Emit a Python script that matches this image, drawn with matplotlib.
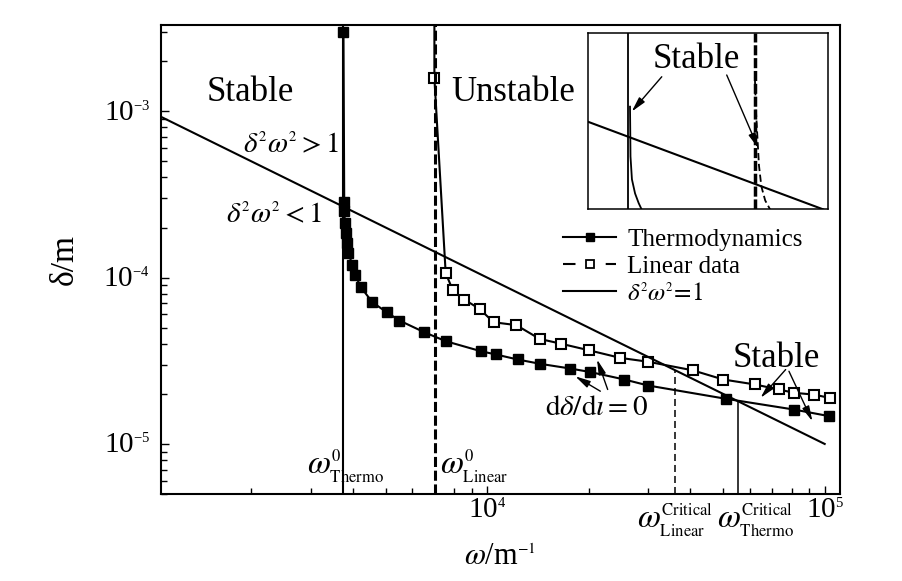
import matplotlib
matplotlib.use("Agg")
import matplotlib.pyplot as plt
import matplotlib._mathtext as mathtext_mod
from matplotlib.lines import Line2D
from matplotlib.ticker import LogLocator, NullFormatter

# smaller super/subscripts, like the original figure
mathtext_mod.SHRINK_FACTOR = 0.5

plt.rcParams['font.family'] = ['Liberation Serif', 'DejaVu Serif']
plt.rcParams['mathtext.fontset'] = 'stix'

# ---- data ----
thermo_omega = [3750, 3770, 3770, 3790, 3815, 3833, 3876, 3985, 4058, 4220, 4566,
                5039, 5494, 6515, 7556, 9578, 10612, 12297, 14365, 17635, 20116,
                25502, 29993, 50840, 81080, 103000]
thermo_delta = [2.99e-3, 2.83e-4, 2.50e-4, 2.13e-4, 1.855e-4, 1.616e-4, 1.407e-4,
                1.197e-4, 1.042e-4, 8.79e-5, 7.11e-5, 6.19e-5, 5.52e-5, 4.69e-5,
                4.14e-5, 3.61e-5, 3.45e-5, 3.22e-5, 3.03e-5, 2.84e-5, 2.71e-5,
                2.44e-5, 2.245e-5, 1.87e-5, 1.61e-5, 1.47e-5]

linear_omega = [6975, 6975, 7533, 7912, 8547, 9490, 10440, 12195, 14297, 16584,
                19980, 24810, 29993, 40670, 50050, 61975, 73150, 81080, 92950, 103700]
linear_delta = [5e-3, 1.58e-3, 1.064e-4, 8.38e-5, 7.38e-5, 6.49e-5, 5.39e-5,
                5.18e-5, 4.28e-5, 4.00e-5, 3.66e-5, 3.29e-5, 3.12e-5, 2.77e-5,
                2.44e-5, 2.28e-5, 2.125e-5, 2.03e-5, 1.98e-5, 1.89e-5]

# delta^2 omega^2 = 1
limit_omega = [1000, 100000]
limit_delta = [1e-3, 1e-5]

omega0_thermo = 3740
omega0_linear = 6990
omega_crit_linear = 35900
omega_crit_thermo = 55500

# inset (zoomed sketch, axes units 0..1)
inset_thermo_x = [0.176, 0.177, 0.178, 0.184, 0.197, 0.212, 0.224]
inset_thermo_y = [0.583, 0.45, 0.30, 0.17, 0.09, 0.035, 0.0]
inset_linear_x = [0.695, 0.700, 0.706, 0.712, 0.722, 0.738, 0.758]
inset_linear_y = [0.75, 0.55, 0.40, 0.25, 0.13, 0.05, 0.0]
inset_limit_x = [0.0, 0.978]
inset_limit_y = [0.498, 0.0]
inset_thermo0 = 0.169
inset_linear0 = 0.695

# ---- figure ----
fig = plt.figure(figsize=(9.03, 5.81), dpi=100)
ax = fig.add_axes([0.1783, 0.1497, 0.7519, 0.8073])
ax.set_xscale('log')
ax.set_yscale('log')
ax.set_xlim(1080, 1.11e5)
ax.set_ylim(5e-6, 3.3e-3)

ax.plot(thermo_omega, thermo_delta, '-', color='k', lw=1.5, marker='s',
        ms=7.5, mfc='k', mec='k', label='Thermodynamics')
ax.plot(linear_omega, linear_delta, '-', color='k', lw=1.5, marker='s',
        ms=6.5, mfc='white', mec='k', mew=1.5, markevery=slice(1, None))
ax.plot(limit_omega, limit_delta, '-', color='k', lw=1.5)

ax.axvline(omega0_thermo, color='k', lw=1.5)
ax.axvline(omega0_linear, color='k', lw=2.2, dashes=(3.3, 1.2))
ax.vlines(omega_crit_linear, 5e-6, 1 / omega_crit_linear, color='k', lw=1.1,
          linestyles=(0, (4.6, 2.6)))
ax.vlines(omega_crit_thermo, 5e-6, 1 / omega_crit_thermo, color='k', lw=1.1)

# ticks
for side in ['left', 'right', 'top', 'bottom']:
    ax.spines[side].set_linewidth(1.5)
ax.xaxis.set_minor_locator(LogLocator(base=10, subs=range(2, 10)))
ax.yaxis.set_minor_locator(LogLocator(base=10, subs=range(2, 10)))
ax.xaxis.set_minor_formatter(NullFormatter())
ax.yaxis.set_minor_formatter(NullFormatter())
ax.tick_params(which='both', direction='in', top=False, right=False, width=1.0)
ax.tick_params(which='major', length=6, labelsize=21)
ax.tick_params(which='minor', length=4)
ax.tick_params(axis='x', which='major', pad=3)
ax.tick_params(axis='y', which='major', pad=8)

ax.set_xlabel(r'$\omega$/m$^{-1}$', fontsize=22)
ax.xaxis.set_label_coords(0.5, -0.105)
ax.set_ylabel('δ/m', fontsize=24)
ax.yaxis.set_label_coords(-0.119, 0.5)

# legend
h_thermo = Line2D([], [], color='k', lw=1.5, marker='s', ms=5.5, mfc='k', mec='k')
h_linear = Line2D([], [], color='k', lw=1.5, dashes=(6, 14.5), marker='s', ms=5.5,
                  mfc='white', mec='k', mew=1.3)
h_limit = Line2D([], [], color='k', lw=1.5)
ax.legend([h_thermo, h_linear, h_limit],
          ['Thermodynamics', 'Linear data', r'$\delta^{2}\omega^{2}\!=\!1$'],
          loc='upper left', bbox_to_anchor=(0.5925, 0.566), frameon=False,
          fontsize=18, borderaxespad=0, borderpad=0, labelspacing=0.18,
          handlelength=2.1, handletextpad=0.46)

# region labels
ax.text(0.0677, 0.8380, 'Stable', transform=ax.transAxes, fontsize=25)
ax.text(0.4281, 0.8380, 'Unstable', transform=ax.transAxes, fontsize=25)
ax.text(0.1208, 0.7271, r'$\delta^{2}\omega^{2}>1$', transform=ax.transAxes,
        fontsize=21)
ax.text(0.0957, 0.5778, r'$\delta^{2}\omega^{2}<1$', transform=ax.transAxes,
        fontsize=21)
ax.text(0.8424, 0.2708, 'Stable', transform=ax.transAxes, fontsize=25)
ax.text(0.5655, 0.1681, r'$\mathrm{d}\delta/\mathrm{d}\iota=0$',
        transform=ax.transAxes, fontsize=21)

arrow = dict(arrowstyle='-|>,head_length=0.9,head_width=0.22', color='k',
             lw=1.0, shrinkA=0, shrinkB=0)
ax.annotate('', xy=(18240, 2.55e-5), xytext=(21640, 2.075e-5), arrowprops=arrow)
ax.annotate('', xy=(21160, 3.22e-5), xytext=(22750, 2.125e-5), arrowprops=arrow)
ax.annotate('', xy=(64580, 1.894e-5), xytext=(76620, 2.80e-5), arrowprops=arrow)
ax.annotate('', xy=(91940, 1.37e-5), xytext=(78370, 2.735e-5), arrowprops=arrow)

# omega labels
ax.text(0.2146, 0.0448, r'$\omega^{0}_{\mathrm{Thermo}}$', transform=ax.transAxes,
        fontsize=24)
ax.text(0.4109, 0.0448, r'$\omega^{0}_{\mathrm{Linear}}$', transform=ax.transAxes,
        fontsize=24)
ax.text(0.7006, -0.0704, r'$\omega^{\mathrm{Critical}}_{\mathrm{Linear}}$',
        transform=ax.transAxes, fontsize=24, clip_on=False)
ax.text(0.8184, -0.0704, r'$\omega^{\mathrm{Critical}}_{\mathrm{Thermo}}$',
        transform=ax.transAxes, fontsize=24, clip_on=False)

# ---- inset ----
ins = fig.add_axes([0.6508, 0.6398, 0.2664, 0.3029])
ins.set_xlim(0, 1)
ins.set_ylim(0, 1)
ins.set_xticks([])
ins.set_yticks([])
for side in ['left', 'right', 'top', 'bottom']:
    ins.spines[side].set_linewidth(1.1)
ins.axvline(inset_thermo0, color='k', lw=1.3)
ins.axvline(inset_linear0, color='k', lw=2.5, dashes=(2.9, 0.8))
ins.plot(inset_thermo_x, inset_thermo_y, color='k', lw=1.3)
ins.plot(inset_linear_x, inset_linear_y, color='k', lw=1.3, dashes=(4, 2))
ins.plot(inset_limit_x, inset_limit_y, color='k', lw=1.5)
ins.text(0.453, 0.80, 'Stable', ha='center', fontsize=25)
ins.annotate('', xy=(0.183, 0.555), xytext=(0.308, 0.753), arrowprops=arrow)
ins.annotate('', xy=(0.709, 0.347), xytext=(0.578, 0.763), arrowprops=arrow)

fig.savefig('out.png', dpi=100)
